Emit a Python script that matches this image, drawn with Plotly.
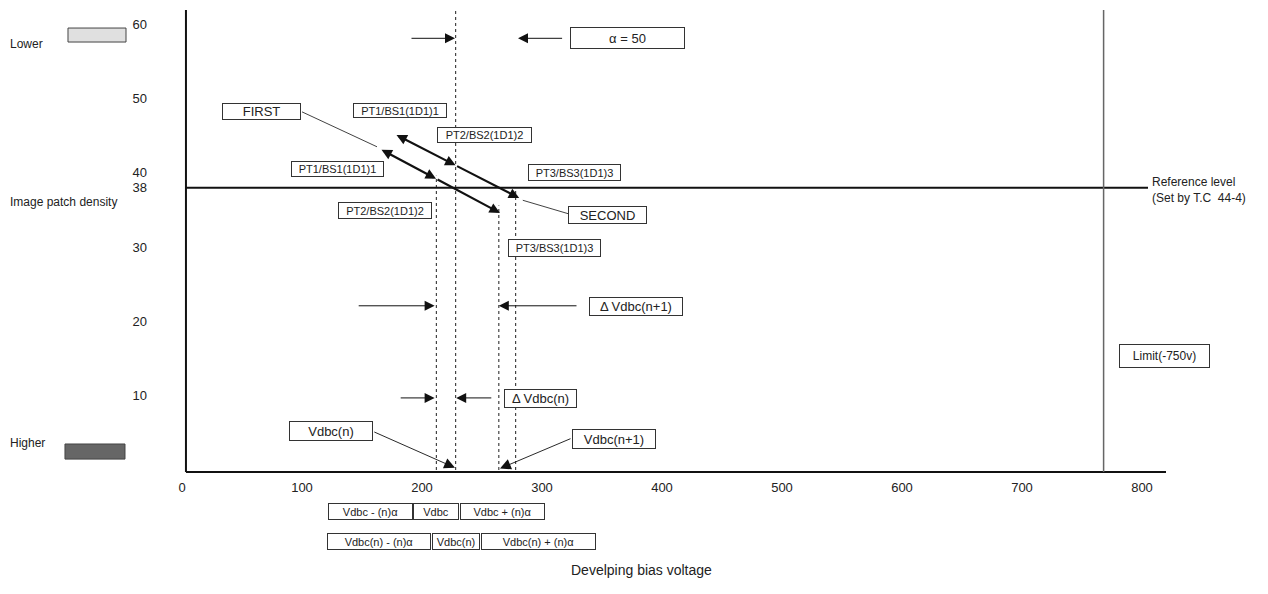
import plotly.graph_objects as go

# axis ticks
x_ticks = [0, 100, 200, 300, 400, 500, 600, 700, 800]
y_ticks = [10, 20, 30, 38, 40, 50, 60]

# levels / voltages
ref_level = 38
limit_v = 768
axis_top = 61.9
vdbc_n_lines = [212, 228]        # lower / upper dotted lines near Vdbc(n)
vdbc_n1_lines = [264, 278]       # lower / upper dotted lines near Vdbc(n+1)
dotted_tops = [39.6, 61.9, 35.6, 37.7]

# FIRST / SECOND thick arrows (start, middle, end) as (voltage, density)
first_pts = [(165, 43.2), (211.7, 39.2), (265, 34.6)]
second_pts = [(177.5, 45.2), (228, 41.0), (281, 36.6)]

# thin dimension arrows: (from, to, density)
dim_arrows = [
    (190, 227.5, 58.1), (318, 280, 58.1),
    (146, 210.5, 22.1), (330, 264, 22.1),
    (181, 210.5, 9.7), (259, 228.5, 9.7),
]

FONT = "Liberation Sans, Arial, sans-serif"
INK = "#111"

fig = go.Figure()

# dotted guide lines
for xv, top in zip(vdbc_n_lines + vdbc_n1_lines, dotted_tops):
    fig.add_trace(go.Scatter(x=[xv, xv], y=[0, top], mode="lines",
                             line=dict(color="#444", width=1.2, dash="3px,3px"),
                             hoverinfo="skip"))

# leader lines (no heads)
for xs, ys in [([100, 162.5], [48.2, 43.5]), ([321.7, 284], [34.5, 36.3])]:
    fig.add_trace(go.Scatter(x=xs, y=ys, mode="lines",
                             line=dict(color=INK, width=0.8), hoverinfo="skip"))

# axes, reference level, limit
fig.add_shape(type="line", x0=3.3, x1=3.3, y0=-0.27, y1=axis_top, line=dict(color=INK, width=2))
fig.add_shape(type="line", x0=3.3, x1=820, y0=-0.27, y1=-0.27, line=dict(color=INK, width=2))
fig.add_shape(type="line", x0=3.3, x1=805, y0=ref_level, y1=ref_level, line=dict(color=INK, width=2))
fig.add_shape(type="line", x0=limit_v, x1=limit_v, y0=-0.27, y1=axis_top, line=dict(color="#666", width=1.5))


def arrow(x0, y0, x1, y1, width=1.0, size=1.8, side="end"):
    fig.add_annotation(x=x1, y=y1, ax=x0, ay=y0, xref="x", yref="y", axref="x", ayref="y",
                       text="", showarrow=True, arrowhead=2, arrowsize=size,
                       arrowwidth=width, arrowcolor=INK, arrowside=side, standoff=0, startstandoff=0)


def box(text, x, y, w, h, size=11, yref="y"):
    fig.add_annotation(x=x, y=y, xref="x", yref=yref, text=text, showarrow=False,
                       width=w - 2, height=h - 2, borderpad=0, borderwidth=1,
                       bordercolor="#333", bgcolor="white",
                       font=dict(family=FONT, size=size, color="#222"))


# thick double arrows
for pts in (first_pts, second_pts):
    (sx, sy), (mx, my), (ex, ey) = pts
    arrow(sx, sy, mx, my, width=2.2, size=0.95, side="end+start")
    arrow(mx, my, ex, ey, width=2.2, size=0.95)

for x0, x1, yv in dim_arrows:
    arrow(x0, yv, x1, yv, size=2.0)

# Vdbc pointers
arrow(159, 5.2, 227.5, 0.3, width=0.9, size=2.4)
arrow(325, 4.3, 265, 0.2, width=0.9, size=2.4)

# labelled boxes
box("FIRST", 66.5, 48.3, 79, 17, 13)
box("SECOND", 354.6, 34.3, 79, 18, 13)
box("PT1/BS1(1D1)1", 181.7, 48.4, 94, 15)
box("PT2/BS2(1D1)2", 252, 45.1, 95, 16)
box("PT1/BS1(1D1)1", 129.6, 40.5, 93, 16)
box("PT2/BS2(1D1)2", 169, 34.9, 94, 17)
box("PT3/BS3(1D1)3", 327, 40.0, 93, 17)
box("PT3/BS3(1D1)3", 310, 29.9, 93, 18)
box("\u03b1 = 50", 371, 58.1, 115, 22, 13)
box("\u0394 Vdbc(n+1)", 378, 22.0, 94, 19, 13)
box("\u0394 Vdbc(n)", 298.8, 9.6, 73, 19, 13)
box("Vdbc(n)", 124, 5.2, 84, 20, 13)
box("Vdbc(n+1)", 360, 4.2, 84, 20, 13)
box("Limit(-750v)", 818.7, 15.3, 91, 24, 12)

# range boxes under the axis (vertical position in paper units)
box("Vdbc - (n)\u03b1", 157.1, -0.0987, 85, 17, yref="paper")
box("Vdbc", 212, -0.0987, 46, 17, yref="paper")
box("Vdbc + (n)\u03b1", 267.3, -0.0987, 85, 17, yref="paper")
box("Vdbc(n) - (n)\u03b1", 164.2, -0.163, 104, 17, yref="paper")
box("Vdbc(n)", 228, -0.163, 48, 17, yref="paper")
box("Vdbc(n) + (n)\u03b1", 296.7, -0.163, 115, 17, yref="paper")

txt = dict(family=FONT, color="#222")
fig.add_annotation(x=806.7, y=37.75, xref="x", yref="y", xanchor="left", align="left",
                   text="Reference level<br>(Set by T.C  44-4)", showarrow=False,
                   font=dict(size=12, **txt))
fig.add_annotation(x=382.5, y=-0.2275, xref="x", yref="paper", text="Develping bias voltage",
                   showarrow=False, font=dict(size=14, **txt))

# density legend on the left
for label, py, y0, y1, x0, x1, fill in [
    ("Lower", 0.942, 0.927, 0.957, -0.1078, -0.0499, "#e0e0e0"),
    ("Higher", 0.047, 0.032, 0.0644, -0.1108, -0.0509, "#666666"),
]:
    fig.add_annotation(x=-0.1677, y=py, xref="paper", yref="paper", xanchor="left",
                       text=label, showarrow=False, font=dict(size=12, **txt))
    fig.add_shape(type="rect", xref="paper", yref="paper", x0=x0, x1=x1, y0=y0, y1=y1,
                  fillcolor=fill, line=dict(color="#444", width=1))
fig.add_annotation(x=-0.1677, y=0.584, xref="paper", yref="paper", xanchor="left",
                   text="Image patch density", showarrow=False, font=dict(size=12, **txt))

# the page body adds an 8px margin, so the figure is sized to the remaining area
fig.update_layout(
    width=1260, height=586,
    margin=dict(l=168, r=90, t=0, b=120),
    plot_bgcolor="white", paper_bgcolor="white",
    showlegend=False, hovermode=False,
    font=dict(family=FONT, size=13, color="#222"),
    xaxis=dict(range=[-5, 830], tickvals=x_ticks, showgrid=False, zeroline=False,
               showline=False, ticks="", tickfont=dict(size=13), ticklabelstandoff=4),
    yaxis=dict(range=[-0.54, 62.18], tickvals=y_ticks, showgrid=False, zeroline=False,
               showline=False, ticks="", tickfont=dict(size=13), ticklabelstandoff=28),
)

fig.write_html("out.html")
